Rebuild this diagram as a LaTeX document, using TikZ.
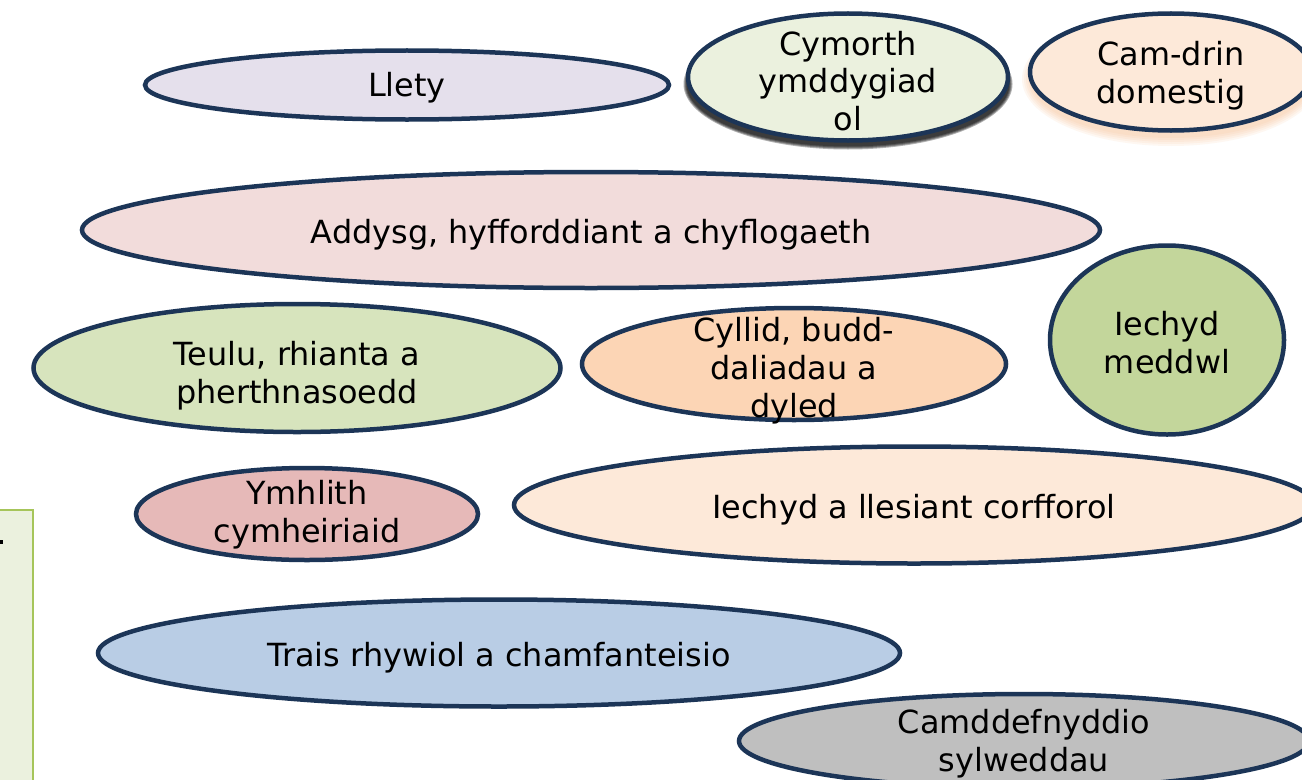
\documentclass[tikz,border=0pt]{standalone}
\usepackage{fontspec}
\setmainfont{DejaVu Sans}
\usetikzlibrary{shapes.geometric}
\definecolor{edge}{HTML}{1C3557}
\definecolor{cLlety}{HTML}{E5E0EC}
\definecolor{cCym}{HTML}{EBF1DE}
\definecolor{cCam}{HTML}{FDE9D9}
\definecolor{cAdd}{HTML}{F2DCDB}
\definecolor{cIem}{HTML}{C3D69B}
\definecolor{cTeu}{HTML}{D7E4BD}
\definecolor{cCyl}{HTML}{FCD5B5}
\definecolor{cYmh}{HTML}{E6B9B8}
\definecolor{cIec}{HTML}{FDE9D9}
\definecolor{cTra}{HTML}{B9CDE5}
\definecolor{cCdd}{HTML}{BFBFBF}
\definecolor{boxfill}{HTML}{EBF1DE}
\definecolor{boxedge}{HTML}{A6C55A}
\definecolor{glow}{HTML}{F9B47F}
\tikzset{
  ell/.style={ellipse, draw=edge, line width=4.5bp, inner sep=0pt},
  txt/.style={align=center, font=\fontsize{32}{38}\selectfont, inner sep=0pt, text=black},
}
\begin{document}
\begin{tikzpicture}[x=1bp,y=-1bp]
\useasboundingbox (0,0) rectangle (1302,779);
\clip (0,0) rectangle (1302,779);
\fill[white] (0,0) rectangle (1302,779);
% left box
\node[draw=boxedge, fill=boxfill, line width=2bp, minimum width=80bp, minimum height=300bp, inner sep=0pt, anchor=north east] (box) at (34,509) {};
\fill[black] (0,540) rectangle (3,544);
% ellipses
\node[ell, fill=cLlety, minimum width=524bp, minimum height=69bp] (llety) at (407,85) {};
\node[txt] (tllety) at (407,88) {Llety};
% dark shadow under Cymorth
\foreach \g in {0,1,2,3}
  \fill[black, opacity=0.3] (848,84) ellipse ({163+\g-1.5} and {64+\g-1.5});
\node[ell, fill=cCym, minimum width=320bp, minimum height=127bp] (cym) at (848,77) {};
\node[txt] (tcym) at (848,81) {Cymorth\\ymddygiad\\ol};
% orange glow under Cam-drin
\foreach \g in {0,2,4,6,8}
  \fill[glow, opacity=0.10] (1171,79) ellipse ({141+\g} and {59+\g});
\node[ell, fill=cCam, minimum width=282bp, minimum height=117bp] (cam) at (1171,72) {};
\node[txt] (tcam) at (1171,76) {Cam-drin\\domestig};
\node[ell, fill=cAdd, minimum width=1018bp, minimum height=116bp] (add) at (591,230) {};
\node[txt] (tadd) at (591,235) {Addysg, hyfforddiant a chyflogaeth};
\node[ell, fill=cIem, minimum width=234bp, minimum height=189bp] (iem) at (1167,340) {};
\node[txt] (tiem) at (1167,343) {Iechyd\\meddwl};
\node[ell, fill=cTeu, minimum width=527bp, minimum height=128bp] (teu) at (297,368) {};
\node[txt] (tteu) at (297,376) {Teulu, rhianta a\\pherthnasoedd};
\node[ell, fill=cCyl, minimum width=424bp, minimum height=112bp] (cyl) at (794,364) {};
\node[txt] (tcyl) at (794,371) {Cyllid, budd-\\daliadau a\\dyled};
\node[ell, fill=cYmh, minimum width=342bp, minimum height=92bp] (ymh) at (307,514) {};
\node[txt] (tymh) at (307,515) {Ymhlith\\cymheiriaid};
\node[ell, fill=cIec, minimum width=800bp, minimum height=117bp] (iec) at (914,505) {};
\node[txt] (tiec) at (914,510) {Iechyd a llesiant corfforol};
\node[ell, fill=cTra, minimum width=802bp, minimum height=107bp] (tra) at (499,653) {};
\node[txt] (ttra) at (499,658) {Trais rhywiol a chamfanteisio};
\node[ell, fill=cCdd, minimum width=570bp, minimum height=94bp] (cdd) at (1024,741) {};
\node[txt] (tcdd) at (1024,744) {Camddefnyddio\\sylweddau};
\end{tikzpicture}
\end{document}
